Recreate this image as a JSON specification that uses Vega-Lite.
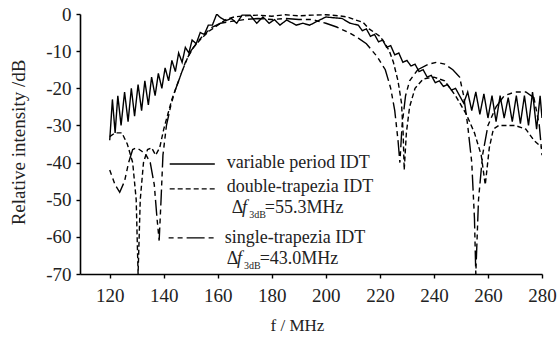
{
  "$schema": "https://vega.github.io/schema/vega-lite/v6.json",
  "width": 462,
  "height": 260,
  "autosize": {"type": "none"},
  "padding": {"left": 80, "top": 14, "right": 18, "bottom": 70},
  "background": "white",
  "config": {
    "view": {"stroke": null},
    "font": "Liberation Serif",
    "axis": {"grid": false, "domainColor": "black", "domainWidth": 1.6, "tickColor": "black", "tickWidth": 1.4, "tickSize": 4, "labelColor": "#222", "titleColor": "#222", "labelFont": "Liberation Serif", "titleFont": "Liberation Serif", "labelFontSize": 19, "titleFontSize": 18, "titleFontWeight": "normal", "labelOverlap": false, "labelFlush": false, "labelBound": false}
  },
  "datasets": {
    "curves": [
    {"series": "variable period IDT", "f": 120, "dB": -34}, {"series": "variable period IDT", "f": 121, "dB": -23}, {"series": "variable period IDT", "f": 122, "dB": -32}, {"series": "variable period IDT", "f": 123, "dB": -22}, {"series": "variable period IDT", "f": 124.2, "dB": -30}, {"series": "variable period IDT", "f": 125.5, "dB": -21}, {"series": "variable period IDT", "f": 126.8, "dB": -29}, {"series": "variable period IDT", "f": 128, "dB": -20}, {"series": "variable period IDT", "f": 129.2, "dB": -27.5}, {"series": "variable period IDT", "f": 130.5, "dB": -19}, {"series": "variable period IDT", "f": 131.8, "dB": -26}, {"series": "variable period IDT", "f": 133, "dB": -18}, {"series": "variable period IDT", "f": 134.3, "dB": -24.5}, {"series": "variable period IDT", "f": 135.5, "dB": -17}, {"series": "variable period IDT", "f": 136.8, "dB": -22}, {"series": "variable period IDT", "f": 138, "dB": -16}, {"series": "variable period IDT", "f": 139.3, "dB": -20}, {"series": "variable period IDT", "f": 140.5, "dB": -14.5}, {"series": "variable period IDT", "f": 141.8, "dB": -18}, {"series": "variable period IDT", "f": 143, "dB": -12.5}, {"series": "variable period IDT", "f": 144.3, "dB": -15.5}, {"series": "variable period IDT", "f": 145.5, "dB": -10.5}, {"series": "variable period IDT", "f": 146.8, "dB": -13}, {"series": "variable period IDT", "f": 148, "dB": -9}, {"series": "variable period IDT", "f": 149.3, "dB": -10.5}, {"series": "variable period IDT", "f": 150.5, "dB": -7}, {"series": "variable period IDT", "f": 152, "dB": -8}, {"series": "variable period IDT", "f": 153.5, "dB": -5}, {"series": "variable period IDT", "f": 155, "dB": -5.5}, {"series": "variable period IDT", "f": 156.5, "dB": -3}, {"series": "variable period IDT", "f": 158, "dB": -3}, {"series": "variable period IDT", "f": 159.6, "dB": 0}, {"series": "variable period IDT", "f": 161, "dB": -1}, {"series": "variable period IDT", "f": 163, "dB": -1.8}, {"series": "variable period IDT", "f": 165, "dB": -1.2}, {"series": "variable period IDT", "f": 167, "dB": -2.5}, {"series": "variable period IDT", "f": 169, "dB": -0.3}, {"series": "variable period IDT", "f": 172, "dB": -0.3}, {"series": "variable period IDT", "f": 174.4, "dB": -2.5}, {"series": "variable period IDT", "f": 176.7, "dB": -0.8}, {"series": "variable period IDT", "f": 179, "dB": -2.5}, {"series": "variable period IDT", "f": 181, "dB": -1.5}, {"series": "variable period IDT", "f": 183, "dB": -3}, {"series": "variable period IDT", "f": 185.5, "dB": -1.6}, {"series": "variable period IDT", "f": 189, "dB": -3}, {"series": "variable period IDT", "f": 191.5, "dB": -2.5}, {"series": "variable period IDT", "f": 194, "dB": -3}, {"series": "variable period IDT", "f": 196.7, "dB": -2}, {"series": "variable period IDT", "f": 200, "dB": -0.8}, {"series": "variable period IDT", "f": 202.6, "dB": -1}, {"series": "variable period IDT", "f": 206, "dB": -1.2}, {"series": "variable period IDT", "f": 209, "dB": -2.5}, {"series": "variable period IDT", "f": 212, "dB": -3}, {"series": "variable period IDT", "f": 213.5, "dB": -4.5}, {"series": "variable period IDT", "f": 215, "dB": -4}, {"series": "variable period IDT", "f": 216.5, "dB": -6}, {"series": "variable period IDT", "f": 218, "dB": -5.5}, {"series": "variable period IDT", "f": 219.5, "dB": -7.5}, {"series": "variable period IDT", "f": 221, "dB": -7}, {"series": "variable period IDT", "f": 222.5, "dB": -9}, {"series": "variable period IDT", "f": 224, "dB": -8.5}, {"series": "variable period IDT", "f": 225.5, "dB": -11}, {"series": "variable period IDT", "f": 227, "dB": -10.5}, {"series": "variable period IDT", "f": 228.5, "dB": -13}, {"series": "variable period IDT", "f": 230, "dB": -12.5}, {"series": "variable period IDT", "f": 231.5, "dB": -14}, {"series": "variable period IDT", "f": 233, "dB": -13.5}, {"series": "variable period IDT", "f": 234.5, "dB": -15.5}, {"series": "variable period IDT", "f": 236, "dB": -15}, {"series": "variable period IDT", "f": 237.5, "dB": -17}, {"series": "variable period IDT", "f": 239, "dB": -16.5}, {"series": "variable period IDT", "f": 240.5, "dB": -18.5}, {"series": "variable period IDT", "f": 242, "dB": -18}, {"series": "variable period IDT", "f": 243.5, "dB": -19.5}, {"series": "variable period IDT", "f": 245, "dB": -19}, {"series": "variable period IDT", "f": 246.5, "dB": -20.5}, {"series": "variable period IDT", "f": 248, "dB": -20}, {"series": "variable period IDT", "f": 249.5, "dB": -22}, {"series": "variable period IDT", "f": 251, "dB": -24}, {"series": "variable period IDT", "f": 252.5, "dB": -21}, {"series": "variable period IDT", "f": 254, "dB": -26}, {"series": "variable period IDT", "f": 255.5, "dB": -21}, {"series": "variable period IDT", "f": 257, "dB": -27}, {"series": "variable period IDT", "f": 258.5, "dB": -21.5}, {"series": "variable period IDT", "f": 260, "dB": -28}, {"series": "variable period IDT", "f": 261.5, "dB": -22}, {"series": "variable period IDT", "f": 263, "dB": -29}, {"series": "variable period IDT", "f": 264.5, "dB": -22}, {"series": "variable period IDT", "f": 266, "dB": -28}, {"series": "variable period IDT", "f": 267.5, "dB": -22.5}, {"series": "variable period IDT", "f": 269, "dB": -29}, {"series": "variable period IDT", "f": 270.5, "dB": -22}, {"series": "variable period IDT", "f": 272, "dB": -29.5}, {"series": "variable period IDT", "f": 273.5, "dB": -22}, {"series": "variable period IDT", "f": 275, "dB": -30}, {"series": "variable period IDT", "f": 276.5, "dB": -21}, {"series": "variable period IDT", "f": 278, "dB": -31}, {"series": "variable period IDT", "f": 279.3, "dB": -22}, {"series": "variable period IDT", "f": 280, "dB": -28},

    {"series": "double-trapezia IDT", "f": 120, "dB": -33}, {"series": "double-trapezia IDT", "f": 122, "dB": -32}, {"series": "double-trapezia IDT", "f": 124.5, "dB": -32}, {"series": "double-trapezia IDT", "f": 126.5, "dB": -35}, {"series": "double-trapezia IDT", "f": 128.5, "dB": -40}, {"series": "double-trapezia IDT", "f": 129.8, "dB": -50}, {"series": "double-trapezia IDT", "f": 130.5, "dB": -70}, {"series": "double-trapezia IDT", "f": 131.3, "dB": -50}, {"series": "double-trapezia IDT", "f": 132.5, "dB": -40}, {"series": "double-trapezia IDT", "f": 134, "dB": -36.5}, {"series": "double-trapezia IDT", "f": 135.5, "dB": -36}, {"series": "double-trapezia IDT", "f": 137, "dB": -38}, {"series": "double-trapezia IDT", "f": 138.5, "dB": -36}, {"series": "double-trapezia IDT", "f": 140, "dB": -31}, {"series": "double-trapezia IDT", "f": 141.5, "dB": -27}, {"series": "double-trapezia IDT", "f": 143, "dB": -23}, {"series": "double-trapezia IDT", "f": 145, "dB": -19}, {"series": "double-trapezia IDT", "f": 147, "dB": -15}, {"series": "double-trapezia IDT", "f": 149, "dB": -11.5}, {"series": "double-trapezia IDT", "f": 151, "dB": -9}, {"series": "double-trapezia IDT", "f": 154, "dB": -6.5}, {"series": "double-trapezia IDT", "f": 157, "dB": -4.5}, {"series": "double-trapezia IDT", "f": 160, "dB": -3}, {"series": "double-trapezia IDT", "f": 163, "dB": -1.5}, {"series": "double-trapezia IDT", "f": 166, "dB": -0.8}, {"series": "double-trapezia IDT", "f": 170, "dB": -0.5}, {"series": "double-trapezia IDT", "f": 175, "dB": -0.3}, {"series": "double-trapezia IDT", "f": 180, "dB": -0.6}, {"series": "double-trapezia IDT", "f": 185, "dB": -0.2}, {"series": "double-trapezia IDT", "f": 190, "dB": -0.5}, {"series": "double-trapezia IDT", "f": 195, "dB": -0.3}, {"series": "double-trapezia IDT", "f": 200, "dB": -0.2}, {"series": "double-trapezia IDT", "f": 205, "dB": -0.5}, {"series": "double-trapezia IDT", "f": 208, "dB": -0.8}, {"series": "double-trapezia IDT", "f": 211, "dB": -1.6}, {"series": "double-trapezia IDT", "f": 213.7, "dB": -2.2}, {"series": "double-trapezia IDT", "f": 216, "dB": -4}, {"series": "double-trapezia IDT", "f": 218, "dB": -5}, {"series": "double-trapezia IDT", "f": 220, "dB": -6}, {"series": "double-trapezia IDT", "f": 222, "dB": -8}, {"series": "double-trapezia IDT", "f": 223.5, "dB": -10}, {"series": "double-trapezia IDT", "f": 225, "dB": -13}, {"series": "double-trapezia IDT", "f": 226.7, "dB": -18}, {"series": "double-trapezia IDT", "f": 228, "dB": -24}, {"series": "double-trapezia IDT", "f": 228.6, "dB": -32}, {"series": "double-trapezia IDT", "f": 229, "dB": -42}, {"series": "double-trapezia IDT", "f": 229.8, "dB": -32}, {"series": "double-trapezia IDT", "f": 231, "dB": -25}, {"series": "double-trapezia IDT", "f": 233, "dB": -20}, {"series": "double-trapezia IDT", "f": 236, "dB": -17.5}, {"series": "double-trapezia IDT", "f": 240, "dB": -17}, {"series": "double-trapezia IDT", "f": 244, "dB": -18}, {"series": "double-trapezia IDT", "f": 248, "dB": -22}, {"series": "double-trapezia IDT", "f": 252, "dB": -27}, {"series": "double-trapezia IDT", "f": 255, "dB": -32}, {"series": "double-trapezia IDT", "f": 257.5, "dB": -38}, {"series": "double-trapezia IDT", "f": 259, "dB": -46}, {"series": "double-trapezia IDT", "f": 260.5, "dB": -36}, {"series": "double-trapezia IDT", "f": 262, "dB": -31}, {"series": "double-trapezia IDT", "f": 264, "dB": -30}, {"series": "double-trapezia IDT", "f": 267, "dB": -30}, {"series": "double-trapezia IDT", "f": 270, "dB": -30}, {"series": "double-trapezia IDT", "f": 274, "dB": -31}, {"series": "double-trapezia IDT", "f": 277, "dB": -34}, {"series": "double-trapezia IDT", "f": 280, "dB": -36},

    {"series": "single-trapezia IDT", "f": 120, "dB": -42}, {"series": "single-trapezia IDT", "f": 122, "dB": -46}, {"series": "single-trapezia IDT", "f": 123.7, "dB": -48}, {"series": "single-trapezia IDT", "f": 125.5, "dB": -45}, {"series": "single-trapezia IDT", "f": 127, "dB": -40}, {"series": "single-trapezia IDT", "f": 128.5, "dB": -36.5}, {"series": "single-trapezia IDT", "f": 130, "dB": -36}, {"series": "single-trapezia IDT", "f": 132, "dB": -37}, {"series": "single-trapezia IDT", "f": 133.5, "dB": -38}, {"series": "single-trapezia IDT", "f": 135, "dB": -40}, {"series": "single-trapezia IDT", "f": 136.5, "dB": -46}, {"series": "single-trapezia IDT", "f": 137.5, "dB": -55}, {"series": "single-trapezia IDT", "f": 138.3, "dB": -61}, {"series": "single-trapezia IDT", "f": 139, "dB": -50}, {"series": "single-trapezia IDT", "f": 139.7, "dB": -38}, {"series": "single-trapezia IDT", "f": 141, "dB": -30}, {"series": "single-trapezia IDT", "f": 142.5, "dB": -25}, {"series": "single-trapezia IDT", "f": 144, "dB": -21}, {"series": "single-trapezia IDT", "f": 146, "dB": -17}, {"series": "single-trapezia IDT", "f": 148, "dB": -13}, {"series": "single-trapezia IDT", "f": 150, "dB": -10}, {"series": "single-trapezia IDT", "f": 152.5, "dB": -7.5}, {"series": "single-trapezia IDT", "f": 155, "dB": -5.5}, {"series": "single-trapezia IDT", "f": 158, "dB": -3.5}, {"series": "single-trapezia IDT", "f": 161, "dB": -2.5}, {"series": "single-trapezia IDT", "f": 165, "dB": -2}, {"series": "single-trapezia IDT", "f": 170, "dB": -1.5}, {"series": "single-trapezia IDT", "f": 175, "dB": -1.2}, {"series": "single-trapezia IDT", "f": 180, "dB": -1.5}, {"series": "single-trapezia IDT", "f": 185, "dB": -1.2}, {"series": "single-trapezia IDT", "f": 190, "dB": -1.5}, {"series": "single-trapezia IDT", "f": 195, "dB": -1.5}, {"series": "single-trapezia IDT", "f": 200, "dB": -2.5}, {"series": "single-trapezia IDT", "f": 204, "dB": -3.5}, {"series": "single-trapezia IDT", "f": 209, "dB": -5.2}, {"series": "single-trapezia IDT", "f": 212, "dB": -6.5}, {"series": "single-trapezia IDT", "f": 215, "dB": -8}, {"series": "single-trapezia IDT", "f": 219, "dB": -11.5}, {"series": "single-trapezia IDT", "f": 222, "dB": -15}, {"series": "single-trapezia IDT", "f": 224, "dB": -20}, {"series": "single-trapezia IDT", "f": 225.5, "dB": -26}, {"series": "single-trapezia IDT", "f": 226.7, "dB": -34}, {"series": "single-trapezia IDT", "f": 227.4, "dB": -40}, {"series": "single-trapezia IDT", "f": 228.2, "dB": -30}, {"series": "single-trapezia IDT", "f": 229.5, "dB": -22}, {"series": "single-trapezia IDT", "f": 231, "dB": -18}, {"series": "single-trapezia IDT", "f": 234, "dB": -15}, {"series": "single-trapezia IDT", "f": 238, "dB": -13.5}, {"series": "single-trapezia IDT", "f": 241, "dB": -13}, {"series": "single-trapezia IDT", "f": 244, "dB": -13.5}, {"series": "single-trapezia IDT", "f": 247, "dB": -15}, {"series": "single-trapezia IDT", "f": 249.5, "dB": -17}, {"series": "single-trapezia IDT", "f": 251, "dB": -22}, {"series": "single-trapezia IDT", "f": 252.5, "dB": -30}, {"series": "single-trapezia IDT", "f": 254, "dB": -40}, {"series": "single-trapezia IDT", "f": 255, "dB": -55}, {"series": "single-trapezia IDT", "f": 255.5, "dB": -70}, {"series": "single-trapezia IDT", "f": 256.5, "dB": -50}, {"series": "single-trapezia IDT", "f": 258, "dB": -38}, {"series": "single-trapezia IDT", "f": 260, "dB": -30}, {"series": "single-trapezia IDT", "f": 263, "dB": -25}, {"series": "single-trapezia IDT", "f": 266, "dB": -22}, {"series": "single-trapezia IDT", "f": 270, "dB": -21}, {"series": "single-trapezia IDT", "f": 274, "dB": -21}, {"series": "single-trapezia IDT", "f": 277, "dB": -22.5}, {"series": "single-trapezia IDT", "f": 279, "dB": -30}, {"series": "single-trapezia IDT", "f": 280, "dB": -38}
    ],
    "one": [{}]
  },
  "layer": [
    {
      "data": {"name": "curves"},
      "mark": {"type": "line", "color": "black", "strokeWidth": 1.4, "clip": true},
      "encoding": {
        "x": {"field": "f", "type": "quantitative", "scale": {"domain": [109, 280], "nice": false, "zero": false},
          "axis": {"values": [120, 140, 160, 180, 200, 220, 240, 260, 280], "tickCount": 20, "labelOverlap": false, "title": "f / MHz", "labelPadding": 8, "titleX": 217, "titleY": 51, "titleBaseline": "middle", "titleAlign": "center", "titleFontSize": 17}},
        "y": {"field": "dB", "type": "quantitative", "scale": {"domain": [-70, 0], "nice": false, "zero": false},
          "axis": {"values": [0, -10, -20, -30, -40, -50, -60, -70], "tickCount": 20, "labelOverlap": false, "labelExpr": "datum.value == 0 ? '0' : '-' + abs(datum.value)", "labelPadding": 5, "title": "Relative intensity /dB", "titleX": -62, "titleY": 128, "titleAngle": -90, "titleAlign": "center", "titleBaseline": "middle", "titleFontSize": 19}},
        "strokeDash": {"field": "series", "type": "nominal", "legend": null,
          "scale": {"domain": ["variable period IDT", "double-trapezia IDT", "single-trapezia IDT"], "range": [[1, 0], [5, 3], [5, 4, 5, 4, 16, 4]]}},
        "detail": {"field": "series"}
      }
    },
    {"data": {"name": "one"}, "mark": {"type": "rule", "color": "black", "strokeWidth": 1.5}, "encoding": {"x": {"datum": 142.2}, "x2": {"datum": 158.9}, "y": {"datum": -40.4}}},
    {"data": {"name": "one"}, "mark": {"type": "rule", "color": "black", "strokeWidth": 1.3, "strokeDash": [5, 3]}, "encoding": {"x": {"datum": 142.2}, "x2": {"datum": 158.9}, "y": {"datum": -47.1}}},
    {"data": {"name": "one"}, "mark": {"type": "rule", "color": "black", "strokeWidth": 1.3, "strokeDash": [5, 4, 5, 4, 18, 4]}, "encoding": {"x": {"datum": 141.8}, "x2": {"datum": 158.5}, "y": {"datum": -60.3}}},
    {"data": {"name": "one"}, "mark": {"type": "text", "align": "left", "baseline": "middle", "fontSize": 18, "font": "Liberation Serif", "color": "#222"}, "encoding": {"x": {"datum": 163.3}, "y": {"datum": -40.2}, "text": {"value": "variable period IDT"}}},
    {"data": {"name": "one"}, "mark": {"type": "text", "align": "left", "baseline": "middle", "fontSize": 18, "font": "Liberation Serif", "color": "#222"}, "encoding": {"x": {"datum": 163.3}, "y": {"datum": -46.6}, "text": {"value": "double-trapezia IDT"}}},
    {"data": {"name": "one"}, "mark": {"type": "text", "align": "left", "baseline": "middle", "fontSize": 18, "font": "Liberation Serif", "color": "#222"}, "encoding": {"x": {"datum": 165.2}, "y": {"datum": -52.3}, "text": {"value": "Δ"}}},
    {"data": {"name": "one"}, "mark": {"type": "text", "align": "left", "baseline": "middle", "fontSize": 18, "font": "Liberation Serif", "fontStyle": "italic", "color": "#222"}, "encoding": {"x": {"datum": 169.0}, "y": {"datum": -52.3}, "text": {"value": "f"}}},
    {"data": {"name": "one"}, "mark": {"type": "text", "align": "left", "baseline": "middle", "fontSize": 10, "font": "Liberation Serif", "color": "#222"}, "encoding": {"x": {"datum": 171.6}, "y": {"datum": -54.2}, "text": {"value": "3dB"}}},
    {"data": {"name": "one"}, "mark": {"type": "text", "align": "left", "baseline": "middle", "fontSize": 18, "font": "Liberation Serif", "color": "#222"}, "encoding": {"x": {"datum": 177.4}, "y": {"datum": -52.3}, "text": {"value": "=55.3MHz"}}},
    {"data": {"name": "one"}, "mark": {"type": "text", "align": "left", "baseline": "middle", "fontSize": 18, "font": "Liberation Serif", "color": "#222"}, "encoding": {"x": {"datum": 162.6}, "y": {"datum": -60.2}, "text": {"value": "single-trapezia IDT"}}},
    {"data": {"name": "one"}, "mark": {"type": "text", "align": "left", "baseline": "middle", "fontSize": 18, "font": "Liberation Serif", "color": "#222"}, "encoding": {"x": {"datum": 163.3}, "y": {"datum": -66.0}, "text": {"value": "Δ"}}},
    {"data": {"name": "one"}, "mark": {"type": "text", "align": "left", "baseline": "middle", "fontSize": 18, "font": "Liberation Serif", "fontStyle": "italic", "color": "#222"}, "encoding": {"x": {"datum": 167.1}, "y": {"datum": -66.0}, "text": {"value": "f"}}},
    {"data": {"name": "one"}, "mark": {"type": "text", "align": "left", "baseline": "middle", "fontSize": 10, "font": "Liberation Serif", "color": "#222"}, "encoding": {"x": {"datum": 169.7}, "y": {"datum": -67.9}, "text": {"value": "3dB"}}},
    {"data": {"name": "one"}, "mark": {"type": "text", "align": "left", "baseline": "middle", "fontSize": 18, "font": "Liberation Serif", "color": "#222"}, "encoding": {"x": {"datum": 175.5}, "y": {"datum": -66.0}, "text": {"value": "=43.0MHz"}}}
  ]
}
